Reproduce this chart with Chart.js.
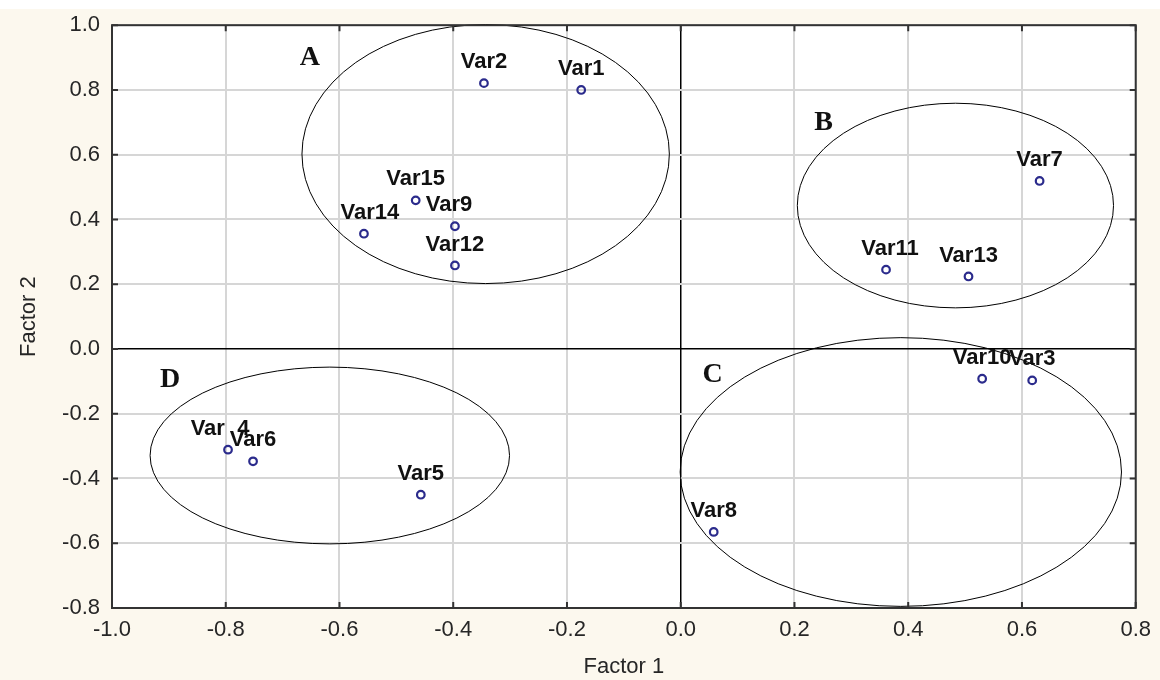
<!DOCTYPE html>
<html>
<head>
<meta charset="utf-8">
<script src="https://cdn.jsdelivr.net/npm/chart.js@4/dist/chart.umd.min.js"></script>
<style>
  html, body { margin: 0; padding: 0; background: #fcf8ee; }
  canvas { display: block; }
</style>
</head>
<body>
<canvas id="factorPlot" width="1160" height="680"></canvas>
<script>
// variable names and their loadings
const varNames = ['Var1', 'Var2', 'Var3', 'Var  4', 'Var5', 'Var6', 'Var7', 'Var8', 'Var9', 'Var10', 'Var11', 'Var12', 'Var13', 'Var14', 'Var15'];
const factor1 = [-0.175, -0.346, 0.618, -0.796, -0.457, -0.752, 0.631, 0.058, -0.397, 0.530, 0.361, -0.397, 0.506, -0.557, -0.466];
const factor2 = [0.800, 0.821, -0.097, -0.311, -0.450, -0.347, 0.519, -0.565, 0.379, -0.092, 0.245, 0.258, 0.224, 0.356, 0.459];

// group ellipses (centre and half-axes in factor units)
const groupNames = ['A', 'B', 'C', 'D'];
const groupCx = [-0.343, 0.483, 0.387, -0.617];
const groupCy = [0.602, 0.443, -0.380, -0.329];
const groupRx = [0.323, 0.278, 0.388, 0.316];
const groupRy = [0.400, 0.316, 0.415, 0.273];
const groupLetterX = [-0.652, 0.251, 0.056, -0.898];
const groupLetterY = [0.898, 0.698, -0.080, -0.096];

const axisTicks = [-1.0, -0.8, -0.6, -0.4, -0.2, 0.0, 0.2, 0.4, 0.6, 0.8, 1.0];

// small horizontal nudges so labels sit like in the original
const labelNudge = { 'Var  4': -8, 'Var9': -6, 'Var14': 6, 'Var11': 4 };

const isZero = v => Math.abs(v) < 1e-9;

const backdrop = {
    id: 'backdrop',
    beforeDraw(chart) {
        const { ctx, chartArea: a } = chart;
        ctx.save();
        ctx.fillStyle = '#fcf8ee';
        ctx.fillRect(0, 0, chart.width, chart.height);
        ctx.fillStyle = '#ffffff';
        ctx.fillRect(0, 0, chart.width, 9);
        ctx.fillRect(a.left, a.top, a.right - a.left, a.bottom - a.top);
        ctx.restore();
    }
};

const groups = {
    id: 'groups',
    beforeDatasetsDraw(chart) {
        const { ctx, scales: { x, y } } = chart;
        ctx.save();
        ctx.strokeStyle = '#000';
        ctx.lineWidth = 1;
        for (let i = 0; i < groupNames.length; i++) {
            const cx = x.getPixelForValue(groupCx[i]);
            const cy = y.getPixelForValue(groupCy[i]);
            const rx = Math.abs(x.getPixelForValue(groupCx[i] + groupRx[i]) - cx);
            const ry = Math.abs(y.getPixelForValue(groupCy[i] + groupRy[i]) - cy);
            ctx.beginPath();
            ctx.ellipse(cx, cy, rx, ry, 0, 0, Math.PI * 2);
            ctx.stroke();
        }
        ctx.fillStyle = '#111';
        ctx.font = 'bold 28px "Liberation Serif", "Times New Roman", serif';
        ctx.textAlign = 'center';
        ctx.textBaseline = 'middle';
        for (let i = 0; i < groupNames.length; i++) {
            ctx.fillText(groupNames[i], x.getPixelForValue(groupLetterX[i]), y.getPixelForValue(groupLetterY[i]));
        }
        ctx.restore();
    },
    afterDraw(chart) {
        const { ctx, chartArea: a, scales: { x, y } } = chart;
        ctx.save();
        // inner tick marks on all four sides
        ctx.strokeStyle = '#333';
        ctx.lineWidth = 2;
        ctx.beginPath();
        x.ticks.forEach(t => {
            const px = x.getPixelForValue(t.value);
            ctx.moveTo(px, a.bottom); ctx.lineTo(px, a.bottom - 6);
            ctx.moveTo(px, a.top); ctx.lineTo(px, a.top + 6);
        });
        y.ticks.forEach(t => {
            const py = y.getPixelForValue(t.value);
            ctx.moveTo(a.left, py); ctx.lineTo(a.left + 6, py);
            ctx.moveTo(a.right, py); ctx.lineTo(a.right - 6, py);
        });
        ctx.stroke();
        ctx.strokeRect(a.left, a.top, a.right - a.left, a.bottom - a.top);
        ctx.restore();
    }
};

const pointLabels = {
    id: 'pointLabels',
    afterDatasetsDraw(chart) {
        const { ctx } = chart;
        const meta = chart.getDatasetMeta(0);
        ctx.save();
        ctx.fillStyle = '#111';
        ctx.font = 'bold 22px "Liberation Sans", Arial, sans-serif';
        ctx.textAlign = 'center';
        ctx.textBaseline = 'middle';
        meta.data.forEach((pt, i) => {
            const name = varNames[i];
            ctx.fillText(name, pt.x + (labelNudge[name] || 0), pt.y - 21);
        });
        ctx.restore();
    }
};

const tickFont = { family: '"Liberation Sans", Arial, sans-serif', size: 22 };
const titleFont = { family: '"Liberation Sans", Arial, sans-serif', size: 22 };

new Chart(document.getElementById('factorPlot').getContext('2d'), {
    type: 'scatter',
    data: {
        labels: varNames,
        datasets: [{
            label: 'Variables',
            data: factor1.map((v, i) => ({ x: v, y: factor2[i] })),
            pointStyle: 'circle',
            pointRadius: 3.8,
            pointBorderWidth: 2.2,
            borderColor: '#2b2b8c',
            backgroundColor: 'rgba(255,255,255,0)',
        }]
    },
    options: {
        responsive: false,
        animation: false,
        devicePixelRatio: 1,
        layout: { padding: { left: 0, top: 22, right: 24, bottom: 0 } },
        plugins: {
            legend: { display: false },
            tooltip: { enabled: false },
        },
        scales: {
            x: {
                type: 'linear',
                min: -1.0,
                max: 0.8,
                afterFit: s => { s.height = 72; },
                afterBuildTicks: s => { s.ticks = axisTicks.filter(v => v <= 0.8 + 1e-9).map(v => ({ value: v })); },
                ticks: {
                    color: '#262626',
                    font: tickFont,
                    padding: 9,
                    callback: v => v.toFixed(1),
                },
                grid: {
                    drawTicks: false,
                    color: c => isZero(c.tick.value) ? '#000' : '#d6d6d6',
                    lineWidth: c => isZero(c.tick.value) ? 1.5 : 2,
                },
                border: { display: false },
                title: { display: true, text: 'Factor 1', color: '#262626', font: titleFont, padding: { top: 0, bottom: 0 } },
            },
            y: {
                type: 'linear',
                min: -0.8,
                max: 1.0,
                afterFit: s => { s.width = 112; },
                afterBuildTicks: s => { s.ticks = axisTicks.filter(v => v >= -0.8 - 1e-9).map(v => ({ value: v })); },
                ticks: {
                    color: '#262626',
                    font: tickFont,
                    padding: 12,
                    callback: v => v.toFixed(1),
                },
                grid: {
                    drawTicks: false,
                    color: c => isZero(c.tick.value) ? '#000' : '#d6d6d6',
                    lineWidth: c => isZero(c.tick.value) ? 1.5 : 2,
                },
                border: { display: false },
                title: { display: true, text: 'Factor 2', color: '#262626', font: titleFont, padding: { top: 16, bottom: 0 } },
            }
        }
    },
    plugins: [backdrop, groups, pointLabels]
});
</script>
</body>
</html>
